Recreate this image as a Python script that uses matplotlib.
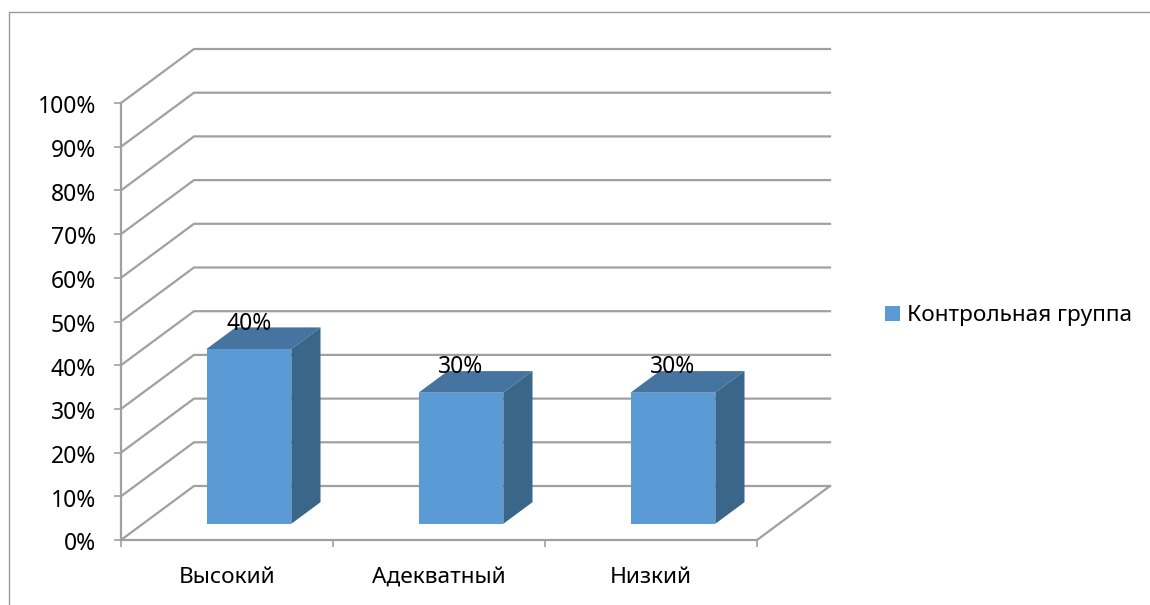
import matplotlib
matplotlib.use('Agg')
import matplotlib.pyplot as plt
from matplotlib.lines import Line2D
from matplotlib.patches import Polygon, Patch
from matplotlib.transforms import ScaledTranslation
import numpy as np

plt.rcParams['font.family'] = ['Noto Sans', 'DejaVu Sans']

categories = ['Высокий', 'Адекватный', 'Низкий']
values = [40, 30, 30]
series_name = 'Контрольная группа'
y_ticks = [0, 10, 20, 30, 40, 50, 60, 70, 80, 90, 100]

W, H = 1150, 605
GRID = '#a0a0a0'
FRONT = '#5b9bd5'
TOP = '#44749f'
SIDE = '#3a6689'

fig = plt.figure(figsize=(W / 100, H / 100), dpi=100)
ax = fig.add_axes([121 / W, (H - 540) / H, 636 / W, 437 / H])
ax.set_xlim(0, 3)
ax.set_ylim(0, 100)
for s in ax.spines.values():
    s.set_visible(False)

# depth of the fake 3d box, in data units
dx = 73 / 212
dy = 54 / 4.37

# walls
for t in y_ticks:
    ax.plot([0, dx, 3 + dx], [t, t + dy, t + dy], color=GRID, lw=1.6, clip_on=False, zorder=1)
ax.plot([0, 0], [0, 100], color=GRID, lw=1.6, clip_on=False, zorder=1)
ax.plot([0, 3, 3 + dx], [0, 0, dy], color=GRID, lw=1.6, clip_on=False, zorder=1)

# bars, sitting 0.3-0.7 of the way into the depth
x = np.arange(len(values)) + 0.5
bw = 0.4
x0 = x + 0.3 * dx
y0 = 0.3 * dy
d = 0.4
for xi, v in zip(x0, values):
    left, right = xi - bw / 2, xi + bw / 2
    top = y0 + v
    ax.add_patch(Polygon([(left, top), (right, top), (right + d * dx, top + d * dy), (left + d * dx, top + d * dy)],
                         facecolor=TOP, edgecolor='none', clip_on=False, zorder=2))
    ax.add_patch(Polygon([(right, y0), (right + d * dx, y0 + d * dy), (right + d * dx, top + d * dy), (right, top)],
                         facecolor=SIDE, edgecolor='none', clip_on=False, zorder=2))
ax.bar(x0, values, width=bw, bottom=y0, color=FRONT, clip_on=False, zorder=3)

for xi, v in zip(x0, values):
    ax.text(xi, y0 + v + 5.8, f'{v}%', ha='center', va='center', fontsize=16.5, color='black', zorder=4)

ax.set_yticks(y_ticks)
ax.set_yticklabels([f'{t}%' for t in y_ticks])
ax.set_xticks([0, 1, 2, 3])
ax.set_xticklabels([])
ax.set_xticks(x, minor=True)
ax.set_xticklabels(categories, minor=True)
ax.tick_params(axis='y', length=5, width=1.2, color=GRID, labelsize=16.5, pad=13)
ax.tick_params(axis='x', which='major', length=5, width=1.2, color=GRID)
ax.tick_params(axis='x', which='minor', length=0, labelsize=16.3, pad=19.5)

# y labels sit a little under their ticks
shift = ScaledTranslation(0, -1 / 72, fig.dpi_scale_trans)
for lab in ax.get_yticklabels():
    lab.set_transform(lab.get_transform() + shift)

fig.legend(handles=[Patch(facecolor=FRONT, label=series_name)], loc='center left',
           bbox_to_anchor=(878 / W, (H - 316) / H), frameon=False, fontsize=16.3,
           handlelength=0.67, handleheight=0.67, handletextpad=0.3, borderpad=0, borderaxespad=0.3)

# chart frame, cropped on the right and bottom
fig.add_artist(Line2D([9 / W, 9 / W, 1], [0, (H - 12) / H, (H - 12) / H], color='#9a9a9a', lw=1))

fig.savefig('out.png', dpi=100)
